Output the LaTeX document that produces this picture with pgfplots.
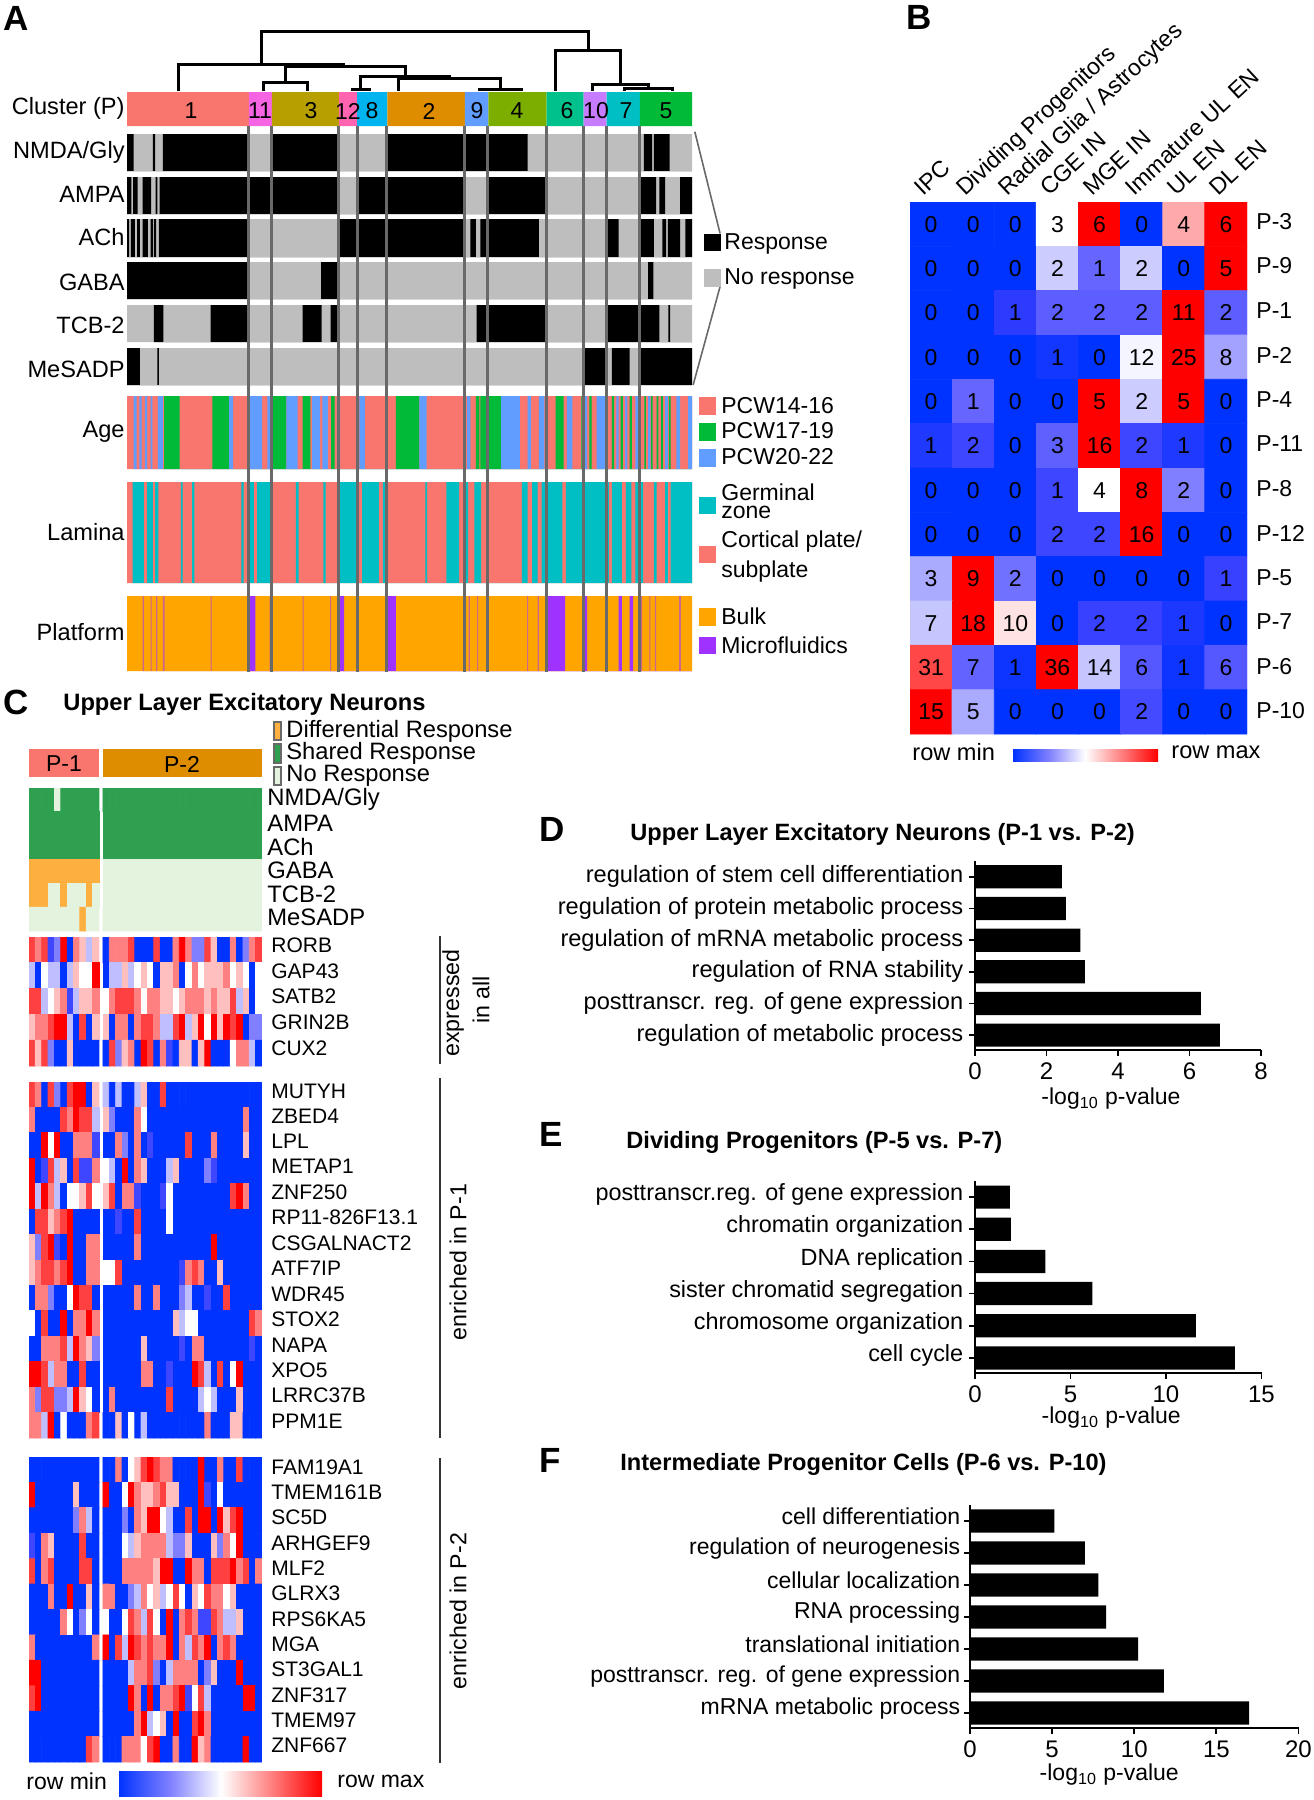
\documentclass[border=0pt]{standalone}
\usepackage{pgfplots}
\usepackage{fontspec}
\setmainfont{Liberation Sans}
\pgfplotsset{compat=1.18,/pgf/number format/assume math mode=true}

% ggplot hues used for the clusters
\definecolor{P1}{HTML}{F8766D}\definecolor{P2}{HTML}{DE8C00}\definecolor{P3}{HTML}{B79F00}
\definecolor{P4}{HTML}{7CAE00}\definecolor{P5}{HTML}{00BA38}\definecolor{P6}{HTML}{00C08B}
\definecolor{P7}{HTML}{00BFC4}\definecolor{P8}{HTML}{00B4F0}\definecolor{P9}{HTML}{619CFF}
\definecolor{P10}{HTML}{C77CFF}\definecolor{P11}{HTML}{F564E3}\definecolor{P12}{HTML}{FF64B0}
\definecolor{nores}{RGB}{190,190,190}
\definecolor{bulk}{RGB}{255,165,0}
\definecolor{micro}{RGB}{160,50,255}
\definecolor{hblue}{RGB}{0,51,255}
\definecolor{hmid}{RGB}{128,128,255}
\definecolor{hred}{RGB}{255,0,0}
\definecolor{shared}{RGB}{46,160,80}
\definecolor{diffr}{RGB}{253,176,64}
\definecolor{none}{RGB}{228,243,222}
\definecolor{gline}{RGB}{105,105,105}

\newcommand{\fs}[1]{\fontsize{#1}{#1}\selectfont}
% text and swatches are placed in reference pixels
\newcommand{\T}[4][]{\node[lab,#1] at (#2*0.5pt,-#3*0.5pt) {#4};}
\newcommand{\sw}[5]{\fill[#5] (#1*0.5pt,-#2*0.5pt) rectangle (#3*0.5pt,-#4*0.5pt);}
\newcommand{\stripes}[2]{\addplot[const plot,fill=#1,draw=none] coordinates {#2} \closedcycle;}
\newcommand{\cellsL}[1]{\addplot[matrix plot*,mesh/cols=11,point meta=explicit] table[row sep=\\,header=false,x expr={mod(\coordindex,11)},y expr={floor((\coordindex+0.5)/11)},meta index=0] {#1};}
\newcommand{\cellsR}[1]{\addplot[matrix plot*,mesh/cols=25,point meta=explicit] table[row sep=\\,header=false,x expr={mod(\coordindex,25)+11.63},y expr={floor((\coordindex+0.5)/25)},meta index=0] {#1};}

\pgfplotsset{
  colormap={bwr}{rgb255=(0,51,255) rgb255=(50,60,255) rgb255=(102,102,255) rgb255=(153,153,255) rgb255=(204,204,255)
    rgb255=(255,255,255) rgb255=(255,204,204) rgb255=(255,153,153) rgb255=(255,102,102) rgb255=(255,51,51) rgb255=(255,0,0)},
  colormap={resp}{rgb255=(228,243,222) rgb255=(253,176,64) rgb255=(46,160,80)},
  band/.style 2 args={scale only axis,width=282.5pt,height={(#2-#1)*0.5pt},
    at={(63.5pt,-#1*0.5pt)},anchor=north west,xmin=226,xmax=1233,ymin=0,ymax=1,hide axis},
  block/.style n args={3}{scale only axis,width=116.5pt,height={(#2-#1)*0.5pt},
    at={(14.5pt,-#1*0.5pt)},anchor=north west,xmin=-0.5,xmax=36.13,
    ymin=-0.5,ymax=#3-0.5,y dir=reverse,hide axis,colormap name=bwr,point meta min=0,point meta max=8},
  gobar/.style={scale only axis,anchor=north west,xbar,bar shift=0pt,bar width=11.6pt,y dir=reverse,
    xmin=0,ytick=data,axis x line*=bottom,axis y line*=left,axis line style={-,line width=1pt},
    tick align=outside,major tick length=3pt,tick style={black,line width=0.9pt},
    yticklabel style={inner sep=1pt,xshift=-1.7pt},xticklabel style={font=\fs{12}},
    xlabel={-log\textsubscript{10} p-value},xlabel style={font=\fs{11.5},yshift=3pt}},
}
\tikzset{lab/.style={inner sep=0pt,font=\fs{11.5}}}

% B: gene-set overlap counts, v = count, m = largest count of its row
\pgfplotstableread[row sep=\\]{
x y v m\\
0 0 0 6\\1 0 0 6\\2 0 0 6\\3 0 3 6\\4 0 6 6\\5 0 0 6\\6 0 4 6\\7 0 6 6\\
0 1 0 5\\1 1 0 5\\2 1 0 5\\3 1 2 5\\4 1 1 5\\5 1 2 5\\6 1 0 5\\7 1 5 5\\
0 2 0 11\\1 2 0 11\\2 2 1 11\\3 2 2 11\\4 2 2 11\\5 2 2 11\\6 2 11 11\\7 2 2 11\\
0 3 0 25\\1 3 0 25\\2 3 0 25\\3 3 1 25\\4 3 0 25\\5 3 12 25\\6 3 25 25\\7 3 8 25\\
0 4 0 5\\1 4 1 5\\2 4 0 5\\3 4 0 5\\4 4 5 5\\5 4 2 5\\6 4 5 5\\7 4 0 5\\
0 5 1 16\\1 5 2 16\\2 5 0 16\\3 5 3 16\\4 5 16 16\\5 5 2 16\\6 5 1 16\\7 5 0 16\\
0 6 0 8\\1 6 0 8\\2 6 0 8\\3 6 1 8\\4 6 4 8\\5 6 8 8\\6 6 2 8\\7 6 0 8\\
0 7 0 16\\1 7 0 16\\2 7 0 16\\3 7 2 16\\4 7 2 16\\5 7 16 16\\6 7 0 16\\7 7 0 16\\
0 8 3 9\\1 8 9 9\\2 8 2 9\\3 8 0 9\\4 8 0 9\\5 8 0 9\\6 8 0 9\\7 8 1 9\\
0 9 7 18\\1 9 18 18\\2 9 10 18\\3 9 0 18\\4 9 2 18\\5 9 2 18\\6 9 1 18\\7 9 0 18\\
0 10 31 36\\1 10 7 36\\2 10 1 36\\3 10 36 36\\4 10 14 36\\5 10 6 36\\6 10 1 36\\7 10 6 36\\
0 11 15 15\\1 11 5 15\\2 11 0 15\\3 11 0 15\\4 11 0 15\\5 11 2 15\\6 11 0 15\\7 11 0 15\\
}\tabB

\begin{document}
\begin{tikzpicture}
\useasboundingbox (0,0) rectangle (656.5pt,-900pt);

% ---------- A: x is position in the sample order
\begin{axis}[band={92}{126}]
\stripes{P1}{(226,1)(443,1)}
\stripes{P11}{(443,1)(484,1)}
\stripes{P3}{(484,1)(604,1)}
\stripes{P12}{(604,1)(636,1)}
\stripes{P8}{(636,1)(690,1)}
\stripes{P2}{(690,1)(828,1)}
\stripes{P9}{(828,1)(870,1)}
\stripes{P4}{(870,1)(974,1)}
\stripes{P6}{(974,1)(1040,1)}
\stripes{P10}{(1040,1)(1081,1)}
\stripes{P7}{(1081,1)(1140,1)}
\stripes{P5}{(1140,1)(1233,1)}
\end{axis}
\begin{axis}[band={134}{171}]
\stripes{nores}{(226,1)(1233,1)}
\stripes{black}{(226,1)(238,0)(272,1)(276,0)(290,1)(442,0)(485,1)(602,0)(690,1)(940,0)(1147,1)(1162,0)(1165,1)(1193,0)(1233,0)}
\end{axis}
\begin{axis}[band={177}{214}]
\stripes{nores}{(226,1)(1233,1)}
\stripes{black}{(226,1)(234,0)(237,1)(245,0)(254,1)(269,0)(277,1)(280,0)(284,1)(602,0)(637,1)(827,0)(870,1)(972,0)(1141,1)(1169,0)(1175,1)(1185,0)(1212,1)(1233,0)}
\end{axis}
\begin{axis}[band={219}{257}]
\stripes{nores}{(226,1)(1233,1)}
\stripes{black}{(226,1)(230,0)(233,1)(240,0)(244,1)(249,0)(254,1)(263,0)(268,1)(272,0)(274,1)(278,0)(283,1)(442,0)(606,1)(827,0)(838,1)(848,0)(856,1)(960,0)(1082,1)(1102,0)(1142,1)(1165,0)(1180,1)(1187,0)(1190,1)(1212,0)(1221,1)(1233,0)}
\end{axis}
\begin{axis}[band={262}{299}]
\stripes{nores}{(226,1)(1233,1)}
\stripes{black}{(226,1)(442,0)(572,1)(601,0)(1155,1)(1164,0)(1233,0)}
\end{axis}
\begin{axis}[band={305}{342}]
\stripes{nores}{(226,1)(1233,1)}
\stripes{black}{(274,1)(291,0)(375,1)(442,0)(539,1)(573,0)(589,1)(601,0)(849,1)(972,0)(1082,1)(1175,0)(1191,1)(1194,0)(1233,0)}
\end{axis}
\begin{axis}[band={348}{385}]
\stripes{nores}{(226,1)(1233,1)}
\stripes{black}{(226,1)(249,0)(280,1)(283,0)(1041,1)(1078,0)(1090,1)(1122,0)(1141,1)(1233,0)}
\end{axis}
\begin{axis}[band={396}{469}]
\stripes{P1}{(226,1)(1233,1)}
\stripes{P5}{(292,1)(320,0)(378,1)(408,0)(486,1)(510,0)(539,1)(553,0)(590,1)(596,0)(705,1)(747,0)(848,1)(854,0)(856,1)(893,0)(990,1)(1004,0)(1036,1)(1040,0)(1050,1)(1054,0)(1090,1)(1094,0)(1106,1)(1110,0)(1122,1)(1126,0)(1148,1)(1151,0)(1160,1)(1163,0)(1170,1)(1173,0)(1178,1)(1181,0)(1192,1)(1195,0)(1233,0)}
\stripes{P9}{(238,1)(243,0)(248,1)(252,0)(258,1)(262,0)(268,1)(271,0)(281,1)(290,0)(408,1)(415,0)(443,1)(467,0)(476,1)(486,0)(510,1)(530,0)(556,1)(570,0)(574,1)(584,0)(600,1)(606,0)(640,1)(650,0)(747,1)(760,0)(832,1)(838,0)(893,1)(926,0)(940,1)(946,0)(960,1)(970,0)(1010,1)(1020,0)(1040,1)(1046,0)(1063,1)(1080,0)(1098,1)(1102,0)(1114,1)(1118,0)(1132,1)(1140,0)(1155,1)(1159,0)(1185,1)(1190,0)(1205,1)(1212,0)(1226,1)(1233,0)}
\end{axis}
\begin{axis}[band={482}{583}]
\stripes{P1}{(226,1)(1233,1)}
\stripes{P7}{(236,1)(256,0)(262,1)(272,0)(276,1)(282,0)(322,1)(325,0)(342,1)(346,0)(430,1)(434,0)(443,1)(452,0)(458,1)(484,0)(527,1)(532,0)(576,1)(580,0)(606,1)(636,0)(645,1)(675,0)(682,1)(690,0)(758,1)(761,0)(795,1)(818,0)(828,1)(834,0)(845,1)(857,0)(930,1)(940,0)(948,1)(958,0)(965,1)(972,0)(975,1)(1002,0)(1008,1)(1085,0)(1090,1)(1108,0)(1115,1)(1125,0)(1132,1)(1146,0)(1165,1)(1170,0)(1185,1)(1190,0)(1195,1)(1233,0)}
\end{axis}
\begin{axis}[band={596}{671}]
\stripes{bulk}{(226,1)(1233,1)}
\stripes{micro!55!bulk}{(254,1)(256,0)(268,1)(270,0)(278,1)(280,0)(290,1)(293,0)(375,1)(377,0)(480,1)(482,0)(539,1)(541,0)(588,1)(590,0)(835,1)(837,0)(850,1)(852,0)(939,1)(941,0)(958,1)(960,0)(1142,1)(1144,0)(1157,1)(1159,0)(1167,1)(1169,0)(1210,1)(1213,0)(1233,0)}
\stripes{micro}{(443,1)(455,0)(602,1)(613,0)(688,1)(705,0)(973,1)(1007,0)(1038,1)(1046,0)(1102,1)(1108,0)(1122,1)(1128,0)(1233,0)}
\end{axis}

% dendrogram, cluster guides and the bracket to the legend
\begin{axis}[scale only axis,width=282.5pt,height=336.5pt,at={(63.5pt,0pt)},anchor=north west,
  xmin=226,xmax=1233,ymin=0,ymax=2019,y dir=reverse,hide axis,clip=false]
\pgfplotsinvokeforeach{443,484,603,636,688,827,869,973,1039,1080,1139}{
  \addplot[gline,line width=1.5pt] coordinates {(#1,378)(#1,2016)};
}
\addplot[gline,line width=0.8pt] coordinates {(1238,395)(1283,700)};
\addplot[gline,line width=0.8pt] coordinates {(1283,860)(1235,1155)};
\addplot[black,line width=1.5pt] coordinates {(466,190)(466,93)(1048,93)(1048,150)};
\addplot[black,line width=1.5pt] coordinates {(989,272)(989,150)(1106,150)(1106,250)};
\addplot[black,line width=1.5pt] coordinates {(1055,272)(1055,252)(1155,252)(1155,265)};
\addplot[black,line width=1.5pt] coordinates {(1112,272)(1112,265)(1198,265)(1198,272)};
\addplot[black,line width=1.5pt] coordinates {(318,272)(318,192)(615,192)};
\addplot[black,line width=1.5pt] coordinates {(508,248)(508,198)(722,198)(722,225)};
\addplot[black,line width=1.5pt] coordinates {(470,272)(470,248)(547,248)(547,272)};
\addplot[black,line width=1.5pt] coordinates {(642,268)(642,228)(803,228)};
\addplot[black,line width=1.5pt] coordinates {(710,272)(710,235)(892,235)(892,268)};
\addplot[black,line width=1.5pt] coordinates {(855,272)(855,268)(930,268)(930,272)};
\addplot[black,line width=1.5pt] coordinates {(628,272)(628,268)(658,268)(658,272)};
\end{axis}

\T[font=\fs{17.5}\bfseries,anchor=west]{3}{18}{A}
\T[font=\fs{11.8},anchor=east]{125}{108}{Cluster (P)}
\T{191}{111}{1}\T{260}{111}{11}\T{311}{111}{3}\T{348}{111}{12}\T{372}{111}{8}
\T{429}{111}{2}\T{477}{111}{9}\T{517}{111}{4}\T{567}{111}{6}\T{596}{111}{10}\T{626}{111}{7}\T{666}{111}{5}
\T[font=\fs{11.8},anchor=east]{125}{152}{NMDA/Gly}\T[font=\fs{11.8},anchor=east]{125}{194}{AMPA}\T[font=\fs{11.8},anchor=east]{125}{237}{ACh}
\T[font=\fs{11.8},anchor=east]{125}{282}{GABA}\T[font=\fs{11.8},anchor=east]{125}{325}{TCB-2}\T[font=\fs{11.8},anchor=east]{125}{369}{MeSADP}
\T[font=\fs{11.8},anchor=east]{125}{432}{Age}\T[font=\fs{11.8},anchor=east]{125}{532}{Lamina}\T[font=\fs{11.8},anchor=east]{125}{632}{Platform}
\sw{704}{234}{721}{251}{black}\sw{704}{269}{721}{287}{nores}
\T[anchor=west]{724}{244}{Response}\T[anchor=west]{724}{279}{No response}
\sw{699}{397}{716}{415}{P1}\sw{699}{423}{716}{441}{P5}\sw{699}{449}{716}{467}{P9}
\T[anchor=west]{721}{406}{PCW14-16}\T[anchor=west]{721}{431}{PCW17-19}\T[anchor=west]{721}{457}{PCW20-22}
\sw{699}{497}{716}{514}{P7}\sw{699}{546}{716}{563}{P1}
\T[anchor=west]{721}{492}{Germinal}\T[anchor=west]{721}{512}{zone}
\T[anchor=west]{721}{542}{Cortical plate/}\T[anchor=west]{721}{572}{subplate}
\sw{699}{608}{716}{626}{bulk}\sw{699}{637}{716}{654}{micro}
\T[anchor=west]{721}{616}{Bulk}\T[anchor=west]{721}{645}{Microfluidics}

% ---------- B
\begin{axis}[scale only axis,width=168.5pt,height=266pt,at={(455pt,-101pt)},anchor=north west,
  xmin=-0.5,xmax=7.5,ymin=-0.5,ymax=11.5,y dir=reverse,hide axis,
  colormap name=bwr,point meta min=0,point meta max=1]
\addplot[matrix plot*,mesh/cols=8,point meta={\thisrow{v}/\thisrow{m}}] table[x=x,y=y] {\tabB};
\addplot[only marks,mark=none,point meta=\thisrow{v},nodes near coords,nodes near coords align={center},
  every node near coord/.append style={font=\fs{11.5},inner sep=0pt,text=black}] table[x=x,y=y] {\tabB};
\end{axis}
\T[font=\fs{17.5}\bfseries,anchor=west]{906}{17}{B}
\T[font=\fs{11.6},rotate=43,anchor=base west]{923}{197}{IPC}
\T[font=\fs{11.6},rotate=43,anchor=base west]{965}{197}{Dividing Progenitors}
\T[font=\fs{11.6},rotate=43,anchor=base west]{1007}{197}{Radial Glia / Astrocytes}
\T[font=\fs{11.6},rotate=43,anchor=base west]{1049}{197}{CGE IN}
\T[font=\fs{11.6},rotate=43,anchor=base west]{1092}{197}{MGE IN}
\T[font=\fs{11.6},rotate=43,anchor=base west]{1134}{197}{Immature UL EN}
\T[font=\fs{11.6},rotate=43,anchor=base west]{1176}{197}{UL EN}
\T[font=\fs{11.6},rotate=43,anchor=base west]{1218}{197}{DL EN}
\T[anchor=west]{1256}{222}{P-3}\T[anchor=west]{1256}{266}{P-9}\T[anchor=west]{1256}{311}{P-1}
\T[anchor=west]{1256}{355}{P-2}\T[anchor=west]{1256}{400}{P-4}\T[anchor=west]{1256}{444}{P-11}
\T[anchor=west]{1256}{489}{P-8}\T[anchor=west]{1256}{533}{P-12}\T[anchor=west]{1256}{578}{P-5}
\T[anchor=west]{1256}{622}{P-7}\T[anchor=west]{1256}{667}{P-6}\T[anchor=west]{1256}{711}{P-10}
\T[font=\fs{11.8},anchor=west]{912}{752}{row min}\T[font=\fs{11.8},anchor=west]{1171}{752}{row max}
\shade[left color=hblue,right color=hmid] (506.5pt,-374.5pt) rectangle (524.5pt,-380.5pt);
\shade[left color=hmid,right color=white] (524.5pt,-374.5pt) rectangle (542.5pt,-380.5pt);
\shade[left color=white,right color=hred] (542.5pt,-374.5pt) rectangle (579pt,-380.5pt);

% ---------- C
\T[font=\fs{17.5}\bfseries,anchor=west]{3}{702}{C}
\T[font=\fs{11.85}\bfseries,anchor=west]{63}{704}{Upper Layer Excitatory Neurons}
\sw{29}{749}{99}{777}{P1}\sw{103}{749}{262}{777}{P2}
\T{64}{764}{P-1}\T{182}{764}{P-2}
\fill[gline] (136.5pt,-360.5pt) rectangle (141pt,-370.5pt);
\fill[gline] (136.5pt,-371.5pt) rectangle (141pt,-382pt);
\fill[gline] (136.5pt,-383pt) rectangle (141pt,-393pt);
\sw{275}{723}{280}{739}{diffr}\sw{275}{745}{280}{762}{shared}\sw{275}{768}{280}{784}{none}
\T[font=\fs{11.85},anchor=west]{286}{731}{Differential Response}\T[font=\fs{11.85},anchor=west]{286}{753}{Shared Response}\T[font=\fs{11.85},anchor=west]{286}{776}{No Response}

% response matrix: 0 none, 1 differential, 2 shared
\begin{axis}[block={788}{931}{6},colormap name=resp,point meta min=0,point meta max=2]
\cellsL{
2\\2\\2\\2\\0\\2\\2\\2\\2\\2\\2\\
2\\2\\2\\2\\2\\2\\2\\2\\2\\2\\2\\
2\\2\\2\\2\\2\\2\\2\\2\\2\\2\\2\\
1\\1\\1\\1\\1\\1\\1\\1\\1\\1\\1\\
1\\1\\1\\0\\0\\1\\0\\0\\0\\1\\0\\
0\\0\\0\\0\\0\\0\\0\\0\\1\\0\\0\\
}
\cellsR{
2\\2\\2\\2\\2\\2\\2\\2\\2\\2\\2\\2\\2\\2\\2\\2\\2\\2\\2\\2\\2\\2\\2\\2\\2\\
2\\2\\2\\2\\2\\2\\2\\2\\2\\2\\2\\2\\2\\2\\2\\2\\2\\2\\2\\2\\2\\2\\2\\2\\2\\
2\\2\\2\\2\\2\\2\\2\\2\\2\\2\\2\\2\\2\\2\\2\\2\\2\\2\\2\\2\\2\\2\\2\\2\\2\\
0\\0\\0\\0\\0\\0\\0\\0\\0\\0\\0\\0\\0\\0\\0\\0\\0\\0\\0\\0\\0\\0\\0\\0\\0\\
0\\0\\0\\0\\0\\0\\0\\0\\0\\0\\0\\0\\0\\0\\0\\0\\0\\0\\0\\0\\0\\0\\0\\0\\0\\
0\\0\\0\\0\\0\\0\\0\\0\\0\\0\\0\\0\\0\\0\\0\\0\\0\\0\\0\\0\\0\\0\\0\\0\\0\\
}
\end{axis}
\T[font=\fs{11.9},anchor=west]{267}{799}{NMDA/Gly}\T[font=\fs{11.9},anchor=west]{267}{823}{AMPA}\T[font=\fs{11.9},anchor=west]{267}{847}{ACh}
\T[font=\fs{11.9},anchor=west]{267}{870}{GABA}\T[font=\fs{11.9},anchor=west]{267}{894}{TCB-2}\T[font=\fs{11.9},anchor=west]{267}{917}{MeSADP}

% expression blocks, 0 row min ... 4 middle ... 8 row max
\begin{axis}[block={937}{1066}{5}]
\cellsL{
7\\6\\7\\1\\2\\8\\0\\6\\5\\3\\5\\
3\\0\\4\\3\\3\\0\\3\\5\\4\\4\\8\\
7\\7\\3\\4\\5\\6\\1\\3\\5\\5\\6\\
5\\6\\6\\7\\8\\8\\3\\0\\7\\0\\5\\
7\\5\\7\\2\\0\\0\\5\\0\\0\\0\\0\\
}
\cellsR{
0\\6\\6\\6\\7\\0\\0\\0\\7\\0\\0\\6\\8\\6\\2\\2\\7\\5\\0\\0\\6\\0\\2\\6\\7\\
0\\3\\3\\5\\3\\4\\5\\4\\0\\5\\5\\6\\0\\4\\6\\4\\5\\5\\5\\6\\4\\5\\4\\0\\4\\
4\\6\\7\\7\\7\\6\\4\\6\\6\\5\\5\\4\\5\\6\\6\\6\\5\\6\\5\\5\\7\\3\\5\\0\\4\\
5\\0\\6\\6\\0\\6\\7\\7\\6\\3\\3\\7\\8\\3\\5\\8\\4\\8\\5\\8\\7\\8\\0\\2\\2\\
0\\7\\2\\5\\6\\0\\8\\7\\0\\6\\1\\0\\5\\5\\0\\5\\8\\0\\0\\0\\4\\6\\6\\3\\0\\
}
\end{axis}
\begin{axis}[block={1082}{1438}{14}]
\cellsL{
7\\6\\0\\7\\2\\0\\7\\8\\8\\0\\5\\
6\\0\\0\\0\\0\\7\\6\\8\\7\\7\\3\\
0\\0\\8\\4\\8\\0\\0\\6\\6\\6\\1\\
8\\0\\1\\7\\3\\5\\0\\7\\1\\1\\6\\
8\\3\\8\\6\\3\\0\\4\\4\\5\\7\\4\\
0\\7\\7\\5\\6\\7\\8\\0\\0\\0\\0\\
5\\2\\7\\8\\1\\0\\8\\0\\0\\6\\6\\
5\\6\\7\\7\\6\\7\\8\\0\\0\\6\\6\\
0\\6\\6\\2\\0\\0\\4\\8\\7\\7\\0\\
4\\0\\7\\0\\0\\8\\0\\6\\6\\8\\6\\
0\\0\\6\\6\\6\\7\\3\\8\\6\\5\\2\\
8\\8\\7\\3\\6\\6\\0\\0\\7\\0\\0\\
6\\2\\7\\7\\2\\2\\3\\8\\5\\4\\0\\
6\\6\\3\\8\\0\\4\\0\\0\\0\\6\\7\\
}
\cellsR{
3\\0\\3\\0\\0\\3\\5\\0\\0\\7\\0\\0\\0\\0\\0\\0\\0\\0\\0\\0\\0\\0\\0\\0\\0\\
5\\2\\0\\0\\0\\6\\4\\0\\0\\0\\0\\0\\0\\0\\0\\0\\0\\0\\0\\0\\0\\0\\6\\0\\0\\
0\\0\\6\\2\\0\\6\\0\\1\\0\\0\\0\\0\\0\\7\\0\\0\\0\\6\\0\\0\\0\\0\\5\\0\\0\\
4\\3\\0\\8\\0\\6\\5\\0\\0\\0\\3\\5\\0\\0\\0\\0\\2\\1\\0\\0\\0\\0\\0\\0\\0\\
5\\7\\0\\6\\6\\1\\0\\0\\0\\1\\4\\0\\0\\0\\0\\0\\0\\0\\0\\0\\7\\8\\6\\0\\0\\
0\\0\\1\\0\\0\\7\\0\\0\\0\\0\\4\\0\\0\\0\\0\\0\\0\\0\\0\\0\\0\\0\\0\\0\\0\\
0\\0\\0\\0\\0\\6\\0\\0\\0\\0\\0\\0\\0\\0\\0\\0\\0\\8\\0\\0\\0\\0\\0\\0\\0\\
4\\4\\7\\0\\0\\0\\0\\0\\0\\0\\0\\0\\1\\6\\7\\6\\0\\0\\5\\0\\0\\0\\0\\0\\0\\
0\\0\\0\\0\\0\\6\\0\\0\\6\\0\\0\\0\\2\\3\\0\\0\\1\\0\\0\\7\\0\\0\\0\\0\\0\\
0\\0\\0\\0\\0\\0\\0\\0\\0\\0\\0\\5\\3\\4\\4\\0\\0\\0\\0\\0\\0\\0\\0\\7\\6\\
0\\0\\0\\0\\0\\0\\5\\0\\0\\0\\0\\0\\1\\0\\6\\6\\0\\0\\0\\0\\0\\0\\0\\1\\0\\
0\\0\\0\\0\\0\\0\\6\\6\\0\\0\\1\\0\\0\\0\\8\\7\\3\\0\\7\\0\\4\\8\\0\\0\\0\\
0\\6\\0\\0\\0\\0\\0\\0\\0\\0\\7\\0\\0\\0\\0\\3\\4\\3\\0\\0\\0\\5\\0\\0\\0\\
0\\0\\5\\0\\4\\0\\3\\0\\0\\0\\0\\0\\0\\0\\0\\0\\6\\0\\0\\0\\5\\5\\0\\0\\0\\
}
\end{axis}
\begin{axis}[block={1457}{1762}{12}]
\cellsL{
0\\0\\0\\0\\0\\0\\0\\0\\0\\0\\0\\
8\\0\\0\\0\\0\\0\\0\\5\\0\\0\\0\\
0\\0\\0\\0\\0\\0\\0\\2\\6\\3\\0\\
1\\0\\6\\5\\0\\0\\0\\0\\7\\0\\0\\
7\\0\\6\\7\\0\\0\\0\\0\\7\\7\\0\\
0\\0\\0\\6\\0\\0\\8\\0\\0\\5\\0\\
0\\0\\0\\0\\0\\6\\4\\0\\2\\4\\0\\
6\\0\\0\\0\\0\\0\\0\\0\\0\\0\\6\\
8\\8\\0\\0\\0\\0\\0\\0\\0\\0\\0\\
7\\8\\0\\0\\0\\0\\0\\0\\0\\0\\0\\
0\\0\\0\\0\\0\\0\\0\\0\\0\\0\\0\\
0\\0\\0\\0\\0\\0\\0\\0\\0\\7\\6\\
}
\cellsR{
0\\0\\6\\0\\4\\5\\7\\8\\7\\6\\6\\0\\0\\0\\0\\8\\0\\0\\6\\0\\0\\7\\0\\0\\0\\
8\\0\\0\\4\\8\\6\\5\\5\\6\\7\\5\\5\\0\\0\\0\\8\\1\\0\\4\\0\\0\\0\\0\\0\\0\\
0\\0\\0\\2\\0\\6\\5\\8\\8\\4\\3\\0\\0\\7\\0\\8\\8\\0\\8\\5\\7\\8\\0\\0\\0\\
0\\0\\0\\4\\3\\5\\6\\6\\6\\6\\3\\2\\2\\5\\0\\0\\0\\5\\2\\6\\4\\8\\0\\0\\0\\
0\\0\\0\\6\\6\\6\\6\\6\\5\\8\\8\\0\\0\\8\\6\\6\\0\\7\\7\\7\\8\\6\\7\\0\\6\\
6\\6\\0\\0\\2\\3\\6\\4\\5\\3\\4\\7\\4\\0\\5\\4\\7\\6\\6\\4\\5\\0\\0\\0\\0\\
4\\0\\0\\4\\7\\6\\3\\7\\4\\0\\8\\0\\6\\7\\6\\1\\1\\7\\6\\3\\3\\5\\0\\0\\0\\
8\\0\\7\\3\\8\\7\\6\\7\\6\\6\\8\\0\\6\\3\\7\\6\\8\\0\\6\\7\\6\\0\\0\\0\\0\\
0\\0\\0\\0\\3\\6\\6\\7\\2\\0\\3\\6\\6\\6\\6\\0\\2\\5\\0\\0\\0\\8\\0\\0\\0\\
0\\0\\0\\0\\8\\6\\0\\8\\0\\6\\6\\7\\8\\1\\4\\7\\3\\0\\0\\0\\0\\0\\8\\8\\0\\
0\\0\\0\\0\\0\\6\\8\\3\\4\\5\\0\\8\\0\\0\\7\\8\\6\\0\\0\\0\\0\\0\\0\\0\\0\\
0\\0\\0\\6\\6\\6\\4\\7\\8\\0\\0\\6\\0\\0\\8\\5\\6\\0\\0\\0\\0\\0\\8\\0\\0\\
}
\end{axis}
\T[font=\fs{10.5},anchor=west]{271}{945}{RORB}\T[font=\fs{10.5},anchor=west]{271}{971}{GAP43}
\T[font=\fs{10.5},anchor=west]{271}{996}{SATB2}\T[font=\fs{10.5},anchor=west]{271}{1022}{GRIN2B}
\T[font=\fs{10.5},anchor=west]{271}{1048}{CUX2}
\T[font=\fs{10.5},anchor=west]{271}{1091}{MUTYH}\T[font=\fs{10.5},anchor=west]{271}{1116}{ZBED4}
\T[font=\fs{10.5},anchor=west]{271}{1141}{LPL}\T[font=\fs{10.5},anchor=west]{271}{1166}{METAP1}
\T[font=\fs{10.5},anchor=west]{271}{1192}{ZNF250}\T[font=\fs{10.5},anchor=west]{271}{1217}{RP11-826F13.1}
\T[font=\fs{10.5},anchor=west]{271}{1243}{CSGALNACT2}\T[font=\fs{10.5},anchor=west]{271}{1268}{ATF7IP}
\T[font=\fs{10.5},anchor=west]{271}{1294}{WDR45}\T[font=\fs{10.5},anchor=west]{271}{1319}{STOX2}
\T[font=\fs{10.5},anchor=west]{271}{1345}{NAPA}\T[font=\fs{10.5},anchor=west]{271}{1370}{XPO5}
\T[font=\fs{10.5},anchor=west]{271}{1395}{LRRC37B}\T[font=\fs{10.5},anchor=west]{271}{1421}{PPM1E}
\T[font=\fs{10.5},anchor=west]{271}{1467}{FAM19A1}\T[font=\fs{10.5},anchor=west]{271}{1492}{TMEM161B}
\T[font=\fs{10.5},anchor=west]{271}{1517}{SC5D}\T[font=\fs{10.5},anchor=west]{271}{1543}{ARHGEF9}
\T[font=\fs{10.5},anchor=west]{271}{1568}{MLF2}\T[font=\fs{10.5},anchor=west]{271}{1593}{GLRX3}
\T[font=\fs{10.5},anchor=west]{271}{1619}{RPS6KA5}\T[font=\fs{10.5},anchor=west]{271}{1644}{MGA}
\T[font=\fs{10.5},anchor=west]{271}{1669}{ST3GAL1}\T[font=\fs{10.5},anchor=west]{271}{1695}{ZNF317}
\T[font=\fs{10.5},anchor=west]{271}{1720}{TMEM97}\T[font=\fs{10.5},anchor=west]{271}{1745}{ZNF667}
\sw{439}{936}{441}{1064}{black!80}\sw{439}{1078}{441}{1438}{black!80}\sw{439}{1458}{441}{1763}{black!80}
\T[rotate=90,font=\fs{11.6}]{453}{1003}{expressed}\T[rotate=90,font=\fs{11.6}]{481}{1000}{in all}
\T[rotate=90,font=\fs{11.6}]{458}{1262}{enriched in P-1}\T[rotate=90,font=\fs{11.6}]{458}{1611}{enriched in P-2}
\T[anchor=west]{26}{1781}{row min}\T[anchor=west]{337}{1781}{row max}
\shade[left color=hblue,right color=hmid] (59.5pt,-885.5pt) rectangle (85pt,-898pt);
\shade[left color=hmid,right color=white] (85pt,-885.5pt) rectangle (110.5pt,-898pt);
\shade[left color=white,right color=hred] (110.5pt,-885.5pt) rectangle (161pt,-898pt);

% ---------- D
\begin{axis}[gobar,width=143pt,height=94.5pt,at={(487.5pt,-430.5pt)},
  xmax=8,xtick={0,2,4,6,8},ymin=-0.5,ymax=5.47,xlabel style={xshift=-3.5pt},
  yticklabel style={font=\fs{11.8}},
  yticklabels={regulation of stem cell differentiation,regulation of protein metabolic process,
    regulation of mRNA metabolic process,regulation of RNA stability,
    posttranscr. reg. of gene expression,regulation of metabolic process}]
\addplot[fill=black,draw=none] coordinates {(2.43,0)(2.54,1)(2.95,2)(3.07,3)(6.32,4)(6.85,5)};
\end{axis}
\T[font=\fs{17.5}\bfseries,anchor=west]{539}{829}{D}
\T[font=\fs{11.8}\bfseries,anchor=west]{630}{834}{Upper Layer Excitatory Neurons (P-1 vs. P-2)}

% ---------- E
\begin{axis}[gobar,width=143.25pt,height=96pt,at={(487.5pt,-590.5pt)},
  xmax=15,xtick={0,5,10,15},ymin=-0.5,ymax=5.47,xlabel style={xshift=-3.5pt,yshift=2pt},
  yticklabel style={font=\fs{11.7},yshift=1.2pt},
  yticklabels={posttranscr.reg. of gene expression,chromatin organization,DNA replication,
    sister chromatid segregation,chromosome organization,cell cycle}]
\addplot[fill=black,draw=none] coordinates {(1.83,0)(1.88,1)(3.69,2)(6.15,3)(11.57,4)(13.61,5)};
\end{axis}
\T[font=\fs{17.5}\bfseries,anchor=west]{539}{1134}{E}
\T[font=\fs{11.8}\bfseries,anchor=west]{626}{1142}{Dividing Progenitors (P-5 vs. P-7)}

% ---------- F
\begin{axis}[gobar,width=164.25pt,height=111.5pt,at={(485pt,-752.5pt)},
  xmax=20,xtick={0,5,10,15,20},ymin=-0.5,ymax=6.47,xlabel style={xshift=-12.5pt,yshift=1pt},
  yticklabel style={font=\fs{11.5},yshift=2.2pt,xshift=1pt},
  yticklabels={cell differentiation,regulation of neurogenesis,cellular localization,RNA processing,
    translational initiation,posttranscr. reg. of gene expression,mRNA metabolic process}]
\addplot[fill=black,draw=none] coordinates {(5.14,0)(7.0,1)(7.82,2)(8.28,3)(10.23,4)(11.81,5)(16.99,6)};
\end{axis}
\T[font=\fs{17.5}\bfseries,anchor=west]{539}{1460}{F}
\T[font=\fs{11.8}\bfseries,anchor=west]{620}{1464}{Intermediate Progenitor Cells (P-6 vs. P-10)}
\end{tikzpicture}
\end{document}
